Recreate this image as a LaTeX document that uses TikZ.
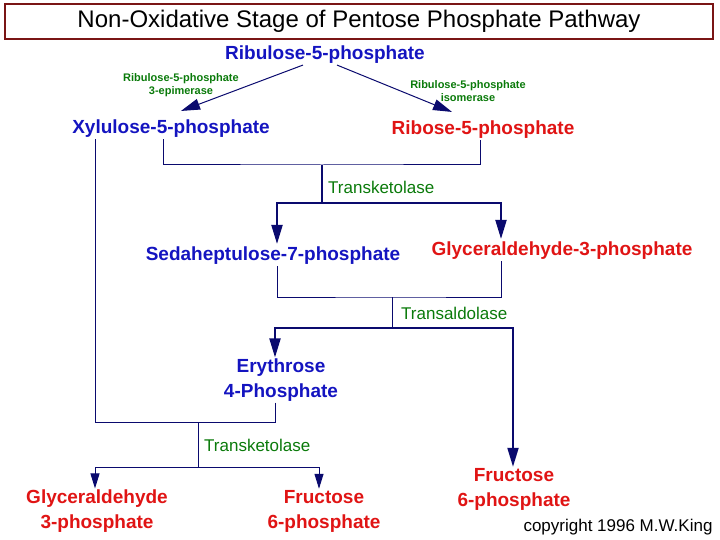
\documentclass[tikz,border=0pt]{standalone}
\usepackage{fontspec}
\setmainfont{Liberation Sans}
\usepackage{tikz}
\usetikzlibrary{arrows.meta, calc}
\definecolor{TitleRed}{HTML}{7A1515}
\definecolor{MetBlue}{HTML}{1414C0}
\definecolor{MetRed}{HTML}{E01414}
\definecolor{EnzGreen}{HTML}{0A7A0A}
\definecolor{LineNavy}{HTML}{0A0A6E}

\begin{document}
\begin{tikzpicture}[x=1pt, y=-1pt,
  met/.style={inner sep=1pt, align=center, font=\fontsize{19}{25}\selectfont\bfseries},
  blue met/.style={met, text=MetBlue},
  red met/.style={met, text=MetRed},
  enz/.style={inner sep=1pt, anchor=west, text=EnzGreen, font=\fontsize{17}{19}\selectfont},
  small enz/.style={inner sep=1pt, align=center, text=EnzGreen, font=\fontsize{11}{13.5}\selectfont\bfseries},
  link/.style={draw=LineNavy, line width=1pt},
  branch/.style={draw=LineNavy, line width=2pt},
  tip/.style={-{Triangle[length=19pt, width=11pt]}},
  small tip/.style={-{Triangle[length=15pt, width=9pt]}},
]
\useasboundingbox (0,0) rectangle (720,540);
% title
\node[draw=TitleRed, line width=1.5pt, minimum width=708pt, minimum height=35pt,
  font=\fontsize{24}{26}\selectfont] (title) at (359,21.5) {Non-Oxidative Stage of Pentose Phosphate Pathway};

% metabolites
\node[blue met] (ru5p) at (325,55) {Ribulose-5-phosphate};
\node[blue met] (xu5p) at (171,129) {Xylulose-5-phosphate};
\node[red met] (r5p) at (483,130) {Ribose-5-phosphate};
\node[blue met] (s7p) at (273,256) {Sedaheptulose-7-phosphate};
\node[red met] (g3p) at (562,251) {Glyceraldehyde-3-phosphate};
\node[blue met] (e4p) at (281,380) {Erythrose\\4-Phosphate};
\node[red met] (g3pb) at (97,511) {Glyceraldehyde\\3-phosphate};
\node[red met] (f6pa) at (324,511) {Fructose\\6-phosphate};
\node[red met] (f6pb) at (514,489) {Fructose\\6-phosphate};
\node[inner sep=1pt, font=\fontsize{17}{19}\selectfont] (copy) at (618,527) {copyright 1996 M.W.King};

% enzymes
\node[small enz] (epi) at (181,85) {Ribulose-5-phosphate\\3-epimerase};
\node[small enz] (iso) at (468,91) {Ribulose-5-phosphate\\isomerase};
\node[enz] (tk1) at (327,187) {Transketolase};
\node[enz] (ta) at (400,313) {Transaldolase};
\node[enz] (tk2) at (203,445) {Transketolase};

% epimerase / isomerase
\draw[link, tip] ($(ru5p.south)+(-22,0)$) -- ($(xu5p.north)+(10,-8)$);
\draw[link, tip] ($(ru5p.south)+(12,0)$) -- ($(r5p.north)+(-31,-8)$);

% transketolase
\coordinate (j1) at (322,165);
\coordinate (s1) at (322,203);
\draw[link] ($(xu5p.south)+(-8,0)$) |- (j1) -| ($(r5p.south)+(-3,0)$);
\draw[link, line width=1.5pt] (j1) -- (s1);
\draw[branch, tip] (s1) -| ($(s7p.north)+(4,-2)$);
\draw[branch, tip] (s1) -| ($(g3p.north)+(-61,-2)$);

% transaldolase
\coordinate (j2) at (392,297);
\coordinate (s2) at (392,328);
\draw[link] ($(s7p.south)+(4,0)$) |- (j2) -| ($(g3p.south)+(-61,0)$);
\draw[link] (j2) -- (s2);
\draw[branch, tip] (s2) -| ($(e4p.north)+(-6,0)$);
\draw[branch, tip] (s2) -| ($(f6pb.north)+(-1,0)$);

% transketolase again
\coordinate (j3) at (198,422);
\coordinate (s3) at (198,467);
\draw[link] ($(xu5p.south west)+(24,0)$) |- (j3);
\draw[link] ($(e4p.south)+(-6,0)$) |- (j3);
\draw[link] (j3) -- (s3);
\draw[link, small tip] (s3) -| ($(g3pb.north)+(-2,0)$);
\draw[link, small tip] (s3) -| ($(f6pa.north)+(-5,0)$);
\end{tikzpicture}
\end{document}
